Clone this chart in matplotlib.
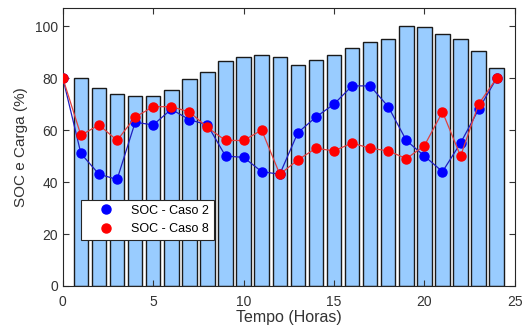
import matplotlib
matplotlib.use("Agg")
import matplotlib.pyplot as plt
import numpy as np

plt.rcParams['font.family'] = ['Liberation Sans', 'DejaVu Sans']

hours_bar = list(range(1, 25))
carga = [80, 76, 74, 73, 73, 75.5, 79.5, 82.5, 86.5, 88, 89, 88,
         85, 87, 89, 91.5, 94, 95, 100, 99.5, 97, 95, 90.5, 84]
hours = list(range(0, 25))
soc_caso2 = [80, 51, 43, 41, 63, 62, 68, 64, 62, 50, 49.5, 44, 43,
             59, 65, 70, 77, 77, 69, 56, 50, 44, 55, 68, 80]
soc_caso8 = [80, 58, 62, 56, 65, 69, 69, 67, 61, 56, 56, 60, 43,
             48.5, 53, 52, 55, 53, 52, 49, 54, 67, 50, 70, 80]

fig = plt.figure(figsize=(5.28, 3.31), dpi=100)
ax = fig.add_axes([0.119, 0.136, 0.856, 0.840])

ax.bar(hours_bar, carga, width=0.8, color='#99CCFF', edgecolor='#1a1a1a', linewidth=1.0, zorder=1)
l2, = ax.plot(hours, soc_caso2, color='#1f1fc0', linewidth=0.9, marker='o', markersize=6.5,
              markerfacecolor='#0000ff', markeredgecolor='#0000ff', zorder=3, label='SOC - Caso 2')
l8, = ax.plot(hours, soc_caso8, color='#e04040', linewidth=0.9, marker='o', markersize=6.5,
              markerfacecolor='#ff0000', markeredgecolor='#ff0000', zorder=4, label='SOC - Caso 8')

ax.set_xlim(0, 25)
ax.set_ylim(0, 107)
ax.set_xticks([0, 5, 10, 15, 20, 25])
ax.set_yticks([0, 20, 40, 60, 80, 100])
ax.tick_params(direction='in', top=True, right=True, labelsize=10, colors='#333333', length=4, width=0.8)
ax.tick_params(axis='x', pad=6.5)
for s in ax.spines.values():
    s.set_color('#262626')
    s.set_linewidth(0.8)
ax.set_xlabel('Tempo (Horas)', fontsize=11.5, color='#333333', labelpad=1)
ax.set_ylabel('SOC e Carga (%)', fontsize=11, color='#333333', labelpad=5)

leg = ax.legend(handles=[l2, l8], loc='lower left', bbox_to_anchor=(0.04, 0.165),
                prop={'size': 9}, frameon=True, fancybox=False, edgecolor='#262626',
                framealpha=1, handlelength=3.2, borderaxespad=0, handletextpad=0.4)
leg.get_frame().set_linewidth(0.8)
for h in leg.get_lines():
    h.set_linestyle('none')

fig.savefig('out.png', dpi=100)
